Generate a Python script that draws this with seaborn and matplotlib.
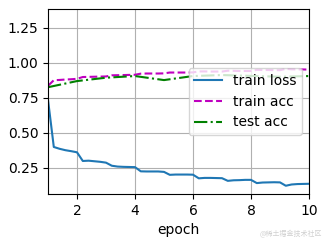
import matplotlib
matplotlib.use("Agg")
import matplotlib.pyplot as plt
import seaborn as sns
import pandas as pd

# train loss / train acc recorded 5 times per epoch
train_x = [1.0, 1.2, 1.4, 1.6, 1.8, 2.0, 2.2, 2.4, 2.6, 2.8, 3.0,
           3.2, 3.4, 3.6, 3.8, 4.0, 4.2, 4.4, 4.6, 4.8, 5.0,
           5.2, 5.4, 5.6, 5.8, 6.0, 6.2, 6.4, 6.6, 6.8, 7.0,
           7.2, 7.4, 7.6, 7.8, 8.0, 8.2, 8.4, 8.6, 8.8, 9.0,
           9.2, 9.4, 9.6, 9.8, 10.0]
train_loss = [0.736, 0.398, 0.385, 0.375, 0.368, 0.360, 0.298, 0.300, 0.296, 0.292, 0.286,
              0.264, 0.258, 0.256, 0.255, 0.254, 0.224, 0.223, 0.223, 0.223, 0.220,
              0.199, 0.201, 0.201, 0.201, 0.200, 0.174, 0.177, 0.177, 0.176, 0.175,
              0.156, 0.160, 0.161, 0.163, 0.163, 0.140, 0.144, 0.145, 0.146, 0.145,
              0.121, 0.130, 0.133, 0.134, 0.135]
train_acc = [0.835, 0.875, 0.877, 0.880, 0.882, 0.885, 0.898, 0.899, 0.900, 0.901, 0.902,
             0.910, 0.911, 0.912, 0.913, 0.914, 0.922, 0.923, 0.923, 0.923, 0.924,
             0.930, 0.930, 0.930, 0.930, 0.931, 0.938, 0.938, 0.937, 0.937, 0.937,
             0.943, 0.942, 0.941, 0.941, 0.941, 0.949, 0.948, 0.948, 0.947, 0.947,
             0.956, 0.953, 0.952, 0.952, 0.951]
test_x = [1, 2, 3, 4, 5, 6, 7, 8, 9, 10]
test_acc = [0.825, 0.869, 0.893, 0.905, 0.876, 0.905, 0.912, 0.906, 0.900, 0.905]

x_ticks = [2, 4, 6, 8, 10]
y_ticks = [0.25, 0.50, 0.75, 1.00, 1.25]

df_train = pd.DataFrame({"epoch": train_x, "loss": train_loss, "acc": train_acc})
df_test = pd.DataFrame({"epoch": test_x, "acc": test_acc})

plt.rcParams["font.family"] = ["DejaVu Sans"]
plt.rcParams["font.size"] = 10

fig = plt.figure(figsize=(3.27, 2.44), dpi=100)
ax = fig.add_axes([48 / 327, 50 / 244, 261 / 327, 185 / 244])

sns.lineplot(data=df_train, x="epoch", y="loss", ax=ax, color="#1f77b4",
             linestyle="-", linewidth=1.5, label="train loss")
sns.lineplot(data=df_train, x="epoch", y="acc", ax=ax, color="m",
             linestyle="--", linewidth=1.5, label="train acc")
sns.lineplot(data=df_test, x="epoch", y="acc", ax=ax, color="g",
             linestyle="-.", linewidth=1.5, label="test acc")

ax.set_xlim(1, 10)
ax.set_ylim(0.062, 1.384)
ax.set_xticks(x_ticks)
ax.set_yticks(y_ticks)
ax.set_xlabel("epoch")
ax.set_ylabel("")
ax.grid(True, color="#b0b0b0", linewidth=0.8)
ax.set_axisbelow(True)
ax.legend(loc="center right", fontsize=10)

fig.text(0.985, 0.025, "@稀土掘金技术社区", ha="right", va="bottom", fontsize=5,
         color="#d0d0d0", family=["Noto Sans CJK SC", "DejaVu Sans"])

fig.savefig("out.png", dpi=100)
